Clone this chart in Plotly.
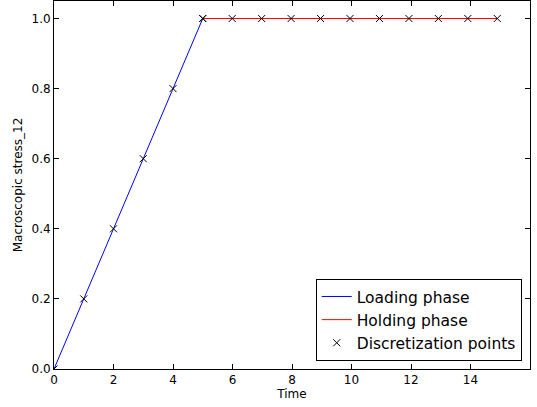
import plotly.graph_objects as go

# Data
load_t = [0, 1, 2, 3, 4, 5]
load_s = [0.0, 0.2, 0.4, 0.6, 0.8, 1.0]
hold_t = [5.0, 5.99, 6.98, 7.97, 8.96, 9.95, 10.94, 11.93, 12.92, 13.91, 14.9]
hold_s = [1.0] * 11
x_ticks = [0, 2, 4, 6, 8, 10, 12, 14, 16]
y_ticks = [0.0, 0.2, 0.4, 0.6, 0.8, 1.0]

font = "DejaVu Sans"
fig = go.Figure()
fig.add_trace(go.Scatter(x=load_t, y=load_s, mode="lines", name="Loading phase",
                         line=dict(color="#0000ff", width=1)))
fig.add_trace(go.Scatter(x=hold_t, y=hold_s, mode="lines", name="Holding phase",
                         line=dict(color="#ff0000", width=1)))
fig.add_trace(go.Scatter(x=load_t + hold_t, y=load_s + hold_s, mode="markers",
                         name="Discretization points",
                         marker=dict(symbol="x-thin", size=7, color="black",
                                     line=dict(color="black", width=1))))

axis_common = dict(showline=True, linecolor="black", linewidth=1, mirror="ticks",
                   ticks="inside", ticklen=5, tickcolor="black", tickwidth=1,
                   showgrid=False, zeroline=False,
                   tickfont=dict(family=font, size=12, color="black"))

fig.update_layout(
    width=537, height=407,
    margin=dict(l=54, r=7, t=1, b=38),
    paper_bgcolor="white", plot_bgcolor="white",
    font=dict(family=font, color="black"),
    xaxis=dict(range=[0, 16], tickvals=x_ticks, ticktext=[str(v) for v in x_ticks],
               title=dict(text="Time", font=dict(family=font, size=12), standoff=2),
               **axis_common),
    yaxis=dict(range=[0, 1.05], tickvals=y_ticks, ticktext=[f"{v:.1f}" for v in y_ticks],
               title=dict(text="Macroscopic stress_12", font=dict(family=font, size=12), standoff=6),
               **axis_common),
    legend=dict(x=0.9826, y=0.022, xanchor="right", yanchor="bottom",
                bordercolor="black", borderwidth=1, bgcolor="white",
                font=dict(family=font, size=15.5, color="black"),
                itemwidth=30, tracegroupgap=0),
    showlegend=True,
)

fig.write_html("out.html")
